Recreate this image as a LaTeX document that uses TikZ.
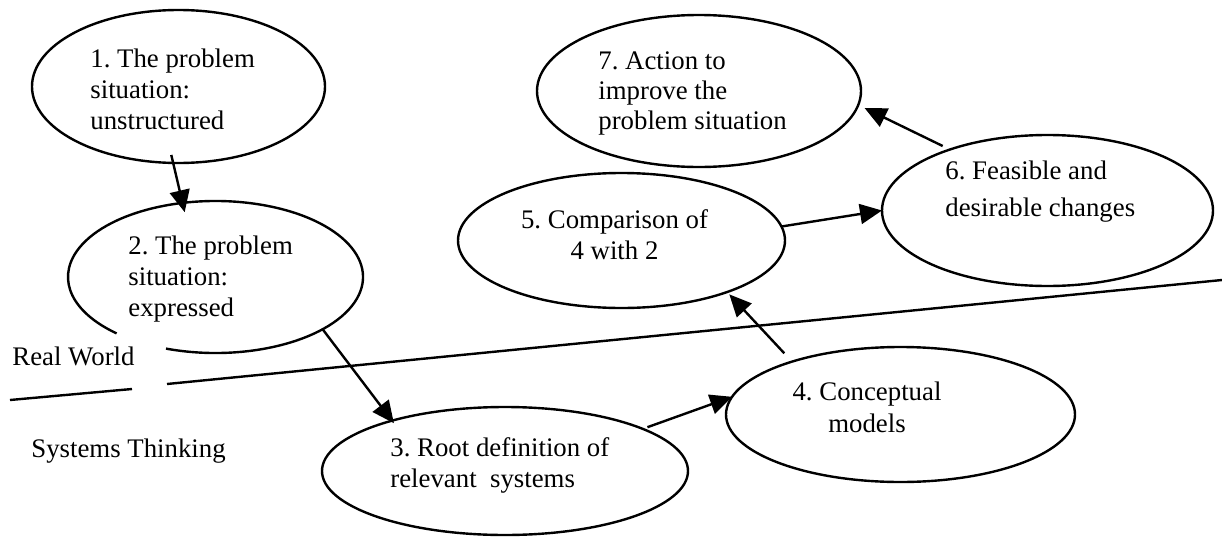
\documentclass[tikz,border=0pt]{standalone}
\usepackage{fontspec}
\setmainfont{Liberation Serif}
\frenchspacing
\usetikzlibrary{arrows.meta,shapes.geometric}
\begin{document}
\begin{tikzpicture}[x=0.5pt,y=0.5pt,
  bubble/.style={ellipse,draw,line width=1.2pt,inner sep=0pt,outer sep=0pt},
  shell/.style={ellipse,inner sep=0pt,outer sep=0pt},
  txt/.style={inner sep=0pt,font=\fontsize{13.4}{15.5}\selectfont},
  flow/.style={line width=1.2pt,-{Triangle[length=11pt,width=10pt]}},
  divider/.style={line width=1.2pt}]

% canvas
\fill[white] (0,0) rectangle (1222,-536);
\useasboundingbox (0,0) rectangle (1222,-536);

% stages of the methodology
\node[bubble, minimum width=146.5pt, minimum height=76.5pt] (e1) at (178.5,-86.5) {};
\node[shell,  minimum width=147.5pt, minimum height=76pt]   (e2) at (215.5,-277) {};
\node[bubble, minimum width=183pt,   minimum height=64pt]   (e3) at (505,-471) {};
\node[bubble, minimum width=174.5pt, minimum height=67.5pt] (e4) at (900.5,-414.5) {};
\node[bubble, minimum width=163.5pt, minimum height=67.5pt] (e5) at (621.5,-240.5) {};
\node[bubble, minimum width=165.5pt, minimum height=75.5pt] (e6) at (1047.5,-210.5) {};
\node[bubble, minimum width=162pt,   minimum height=76pt]   (e7) at (699,-91) {};

% stage 2 outline, left open where the label passes
\draw[line width=1.2pt] (e2.center) ++(250.4:147.5 and 76)
  arc[start angle=250.4, end angle=587.9, x radius=147.5, y radius=76];

% stage texts
\node[txt, anchor=west, align=left] (t1) at (90,-89)
  {1. The problem\\situation:\\unstructured};
\node[txt, anchor=west, align=left] (t2) at (128,-279)
  {2. The problem\\situation:\\expressed};
\node[txt, anchor=west, align=left] (t3) at (390,-465)
  {3. Root definition of\\relevant~~systems};
\node[txt, align=center, font=\fontsize{13.4}{16}\selectfont] (t4) at (867,-407)
  {4. Conceptual\\models};
\node[txt, align=center] (t5) at (614.5,-234.5)
  {5. Comparison of\\4 with 2};
\node[txt, anchor=west, align=left, font=\fontsize{13.4}{18.5}\selectfont] (t6) at (945,-191.5)
  {6. Feasible and\\desirable changes};
\node[txt, anchor=west, align=left, font=\fontsize{13.4}{15}\selectfont] (t7) at (598,-93)
  {7. Action to\\improve the\\problem situation};

% boundary between the two worlds
\coordinate (bL) at (10,-400);
\coordinate (bLg) at (132,-389);
\coordinate (bRg) at (167,-384);
\coordinate (bR) at (1222,-280);
\draw[divider] (bL) -- (bLg);
\draw[divider] (bRg) -- (bR);

\node[txt, anchor=base west] (rw) at (12,-365) {Real World};
\node[txt, anchor=base west] (st) at (31,-457) {Systems Thinking};

% flow between stages
\draw[flow, shorten <=-4.1pt, shorten >=-4.75pt] (e1.266) -- (e2.114);
\draw[flow, shorten >=-1.6pt] (e2.334) -- (e3.156);
\draw[flow, shorten <=2.5pt] (e3.17) -- (e4.174);
\draw[flow, shorten <=5.7pt, shorten >=1.6pt] (e4.154) -- (e5.334);
\draw[flow] (e5.5) -- (e6.180);
\draw[flow, shorten <=4pt, shorten >=3.5pt] (e6.148) -- (e7.355);

\end{tikzpicture}
\end{document}
